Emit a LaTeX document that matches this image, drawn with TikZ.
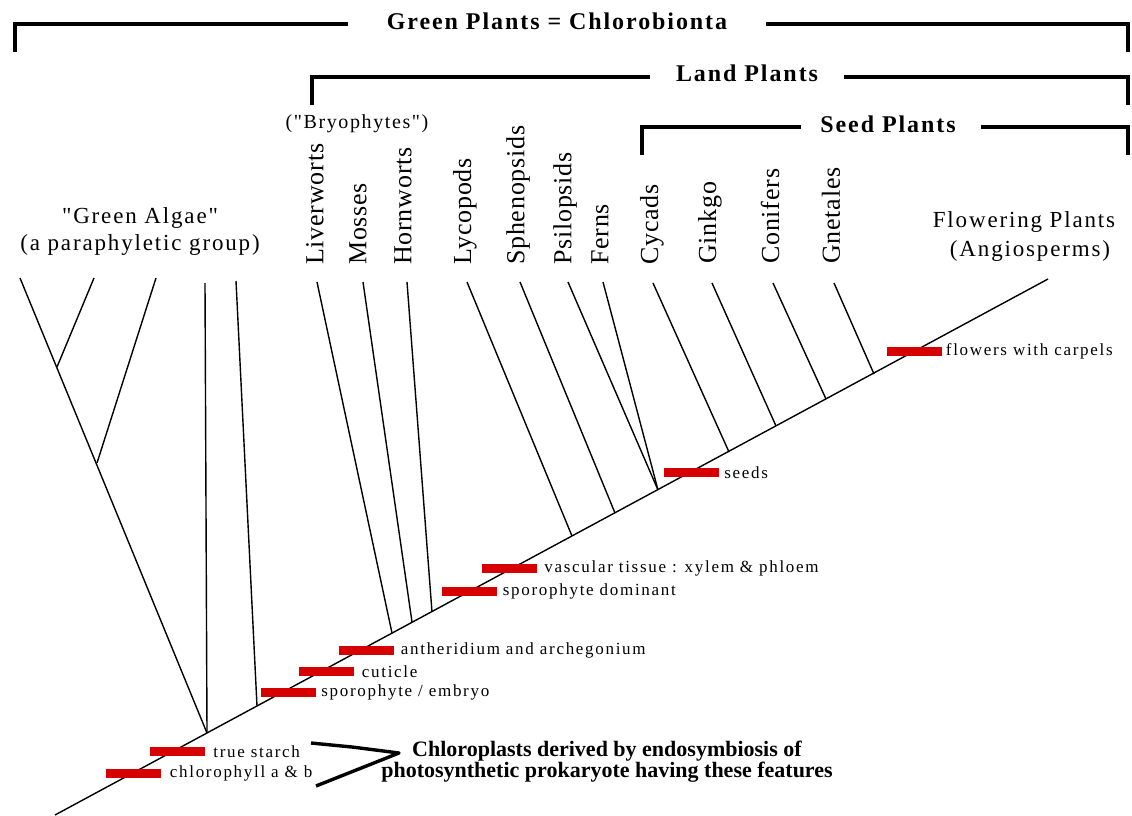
\documentclass[tikz,border=0pt]{standalone}
\usepackage{fontspec}
\setmainfont{Liberation Serif}
\newfontfamily\lsf[LetterSpace=8]{Liberation Serif}
\newfontfamily\smf[LetterSpace=10]{Liberation Serif}
\newfontfamily\vf[LetterSpace=3]{Liberation Serif}
\definecolor{barred}{RGB}{214,0,0}
\begin{document}
\begin{tikzpicture}[x=1pt,y=-1pt,
  tree/.style={line width=1.4pt},
  brk/.style={line width=3.8pt},
  title/.style={font=\lsf\bfseries\fontsize{24}{28}\selectfont, inner sep=0pt, anchor=base},
  taxon/.style={font=\vf\fontsize{26}{30}\selectfont, rotate=90, anchor=west, inner sep=0pt},
  group/.style={font=\lsf\fontsize{23}{27}\selectfont, inner sep=0pt, anchor=base},
  bar/.style={fill=barred, minimum width=55pt, minimum height=9pt, inner sep=0pt, draw=none},
  trait/.style={font=\smf\fontsize{17}{20}\selectfont, anchor=west, inner sep=0pt},
  note/.style={font=\bfseries\fontsize{22}{24}\selectfont, inner sep=0pt, anchor=base},
  ]
\useasboundingbox (0,0) rectangle (1132,815);

% ---------- brackets and titles ----------
\node[title] (gp) at (557,29) {Green Plants = Chlorobionta};
\coordinate (gpL) at (15,52);  \coordinate (gpA) at (348,24);
\coordinate (gpB) at (766,24); \coordinate (gpR) at (1128,52);
\draw[brk] (gpL) |- (gpA);
\draw[brk] (gpB) -| (gpR);

\node[title] (lp) at (747,81) {Land Plants};
\coordinate (lpL) at (312,105); \coordinate (lpA) at (650,77);
\coordinate (lpB) at (844,77);  \coordinate (lpR) at (1128,105);
\draw[brk] (lpL) |- (lpA);
\draw[brk] (lpB) -| (lpR);

\node[title] (sp) at (888,132) {Seed Plants};
\coordinate (spL) at (642,155); \coordinate (spA) at (801,127);
\coordinate (spB) at (981,127); \coordinate (spR) at (1128,155);
\draw[brk] (spL) |- (spA);
\draw[brk] (spB) -| (spR);

% ---------- group labels ----------
\node[group] (ga1) at (140,223) {"Green Algae"};
\node[group] (ga2) at (140,250) {(a paraphyletic group)};
\node[group] (fp1) at (1024,227) {Flowering Plants};
\node[group] (fp2) at (1030,256) {(Angiosperms)};
\node[font=\lsf\fontsize{20}{24}\selectfont, inner sep=0pt, anchor=base] (bry) at (357,128) {("Bryophytes")};

% ---------- taxon labels ----------
\node[taxon] (tLiv) at (315,265) {Liverworts};
\node[taxon] (tMos) at (358,265) {Mosses};
\node[taxon] (tHor) at (403,265) {Hornworts};
\node[taxon] (tLyc) at (465,265) {Lycopods};
\node[taxon] (tSph) at (518,265) {Sphenopsids};
\node[taxon] (tPsi) at (565,265) {Psilopsids};
\node[taxon] (tFer) at (600,265) {Ferns};
\node[taxon] (tCyc) at (652,265) {Cycads};
\node[taxon] (tGin) at (710,264) {Ginkgo};
\node[taxon] (tCon) at (770,264) {Conifers};
\node[taxon] (tGne) at (831,264) {Gnetales};

% ---------- tree ----------
\coordinate (m0) at (55,815);
\coordinate (m1) at (1048,279);
\draw[tree] (m0) -- (m1);

% green algae
\coordinate (a1) at (20,278);  \coordinate (a2) at (94,278);
\coordinate (a3) at (156,278); \coordinate (a4) at (205,283);
\coordinate (a5) at (236,281);
\coordinate (jA) at (207,733); \coordinate (jB) at (57,367);
\coordinate (jC) at (97,463);  \coordinate (jE) at (257,706);
\draw[tree] (a1) -- (jA);
\draw[tree] (a2) -- (jB);
\draw[tree] (a3) -- (jC);
\draw[tree] (a4) -- (jA);
\draw[tree] (a5) -- (jE);

% land plants
\coordinate (kLiv) at (317,282); \coordinate (jLiv) at (392,633);
\coordinate (kMos) at (363,282); \coordinate (jMos) at (412,622);
\coordinate (kHor) at (407,282); \coordinate (jHor) at (432,612);
\coordinate (kLyc) at (467,282); \coordinate (jLyc) at (572,536);
\coordinate (kSph) at (520,282); \coordinate (jSph) at (615,513);
\coordinate (kPsi) at (568,282); \coordinate (jFer) at (658,490);
\coordinate (kFer) at (603,282);
\coordinate (kCyc) at (653,283); \coordinate (jCyc) at (729,452);
\coordinate (kGin) at (712,283); \coordinate (jGin) at (776,426);
\coordinate (kCon) at (773,283); \coordinate (jCon) at (826,399);
\coordinate (kGne) at (834,283); \coordinate (jGne) at (874,374);
\foreach \n/\j in {Liv/Liv,Mos/Mos,Hor/Hor,Lyc/Lyc,Sph/Sph,Psi/Fer,Fer/Fer,Cyc/Cyc,Gin/Gin,Con/Con,Gne/Gne}
  \draw[tree] (k\n) -- (j\j);

% ---------- character bars ----------
\node[bar] (bChl) at (133,773.5) {};
\node[bar] (bSta) at (177.5,751) {};
\node[bar] (bEmb) at (288.5,692.5) {};
\node[bar] (bCut) at (326,671.5) {};
\node[bar] (bAnt) at (366,650.5) {};
\node[bar] (bDom) at (469,591.5) {};
\node[bar] (bVas) at (509.5,568.5) {};
\node[bar] (bSee) at (691.5,472.5) {};
\node[bar] (bFlo) at (914,351.5) {};

\node[trait] (lChl) at ([xshift=9pt]bChl.east) {chlorophyll a \& b};
\node[trait] (lSta) at ([xshift=8pt,yshift=-1pt]bSta.east) {true starch};
\node[trait] (lEmb) at ([xshift=5pt]bEmb.east) {sporophyte / embryo};
\node[trait] (lCut) at ([xshift=8pt]bCut.east) {cuticle};
\node[trait] (lAnt) at ([xshift=7pt]bAnt.east) {antheridium and archegonium};
\node[trait] (lDom) at ([xshift=6pt]bDom.east) {sporophyte dominant};
\node[trait] (lVas) at ([xshift=7pt]bVas.east) {vascular tissue : xylem \& phloem};
\node[trait] (lSee) at ([xshift=5pt]bSee.east) {seeds};
\node[trait] (lFlo) at ([xshift=4pt]bFlo.east) {flowers with carpels};

% ---------- chloroplast note ----------
\node[note] (n1) at (607,756) {Chloroplasts derived by endosymbiosis of};
\node[note] (n2) at (607,777) {photosynthetic prokaryote having these features};
\coordinate (c1) at (311,743);
\coordinate (ck) at (352,747);
\coordinate (apex) at (399,753);
\coordinate (c2) at (316,786);
\draw[line width=3.4pt, line join=round] (c1) -- (ck) -- (apex) -- (c2);
\end{tikzpicture}
\end{document}
